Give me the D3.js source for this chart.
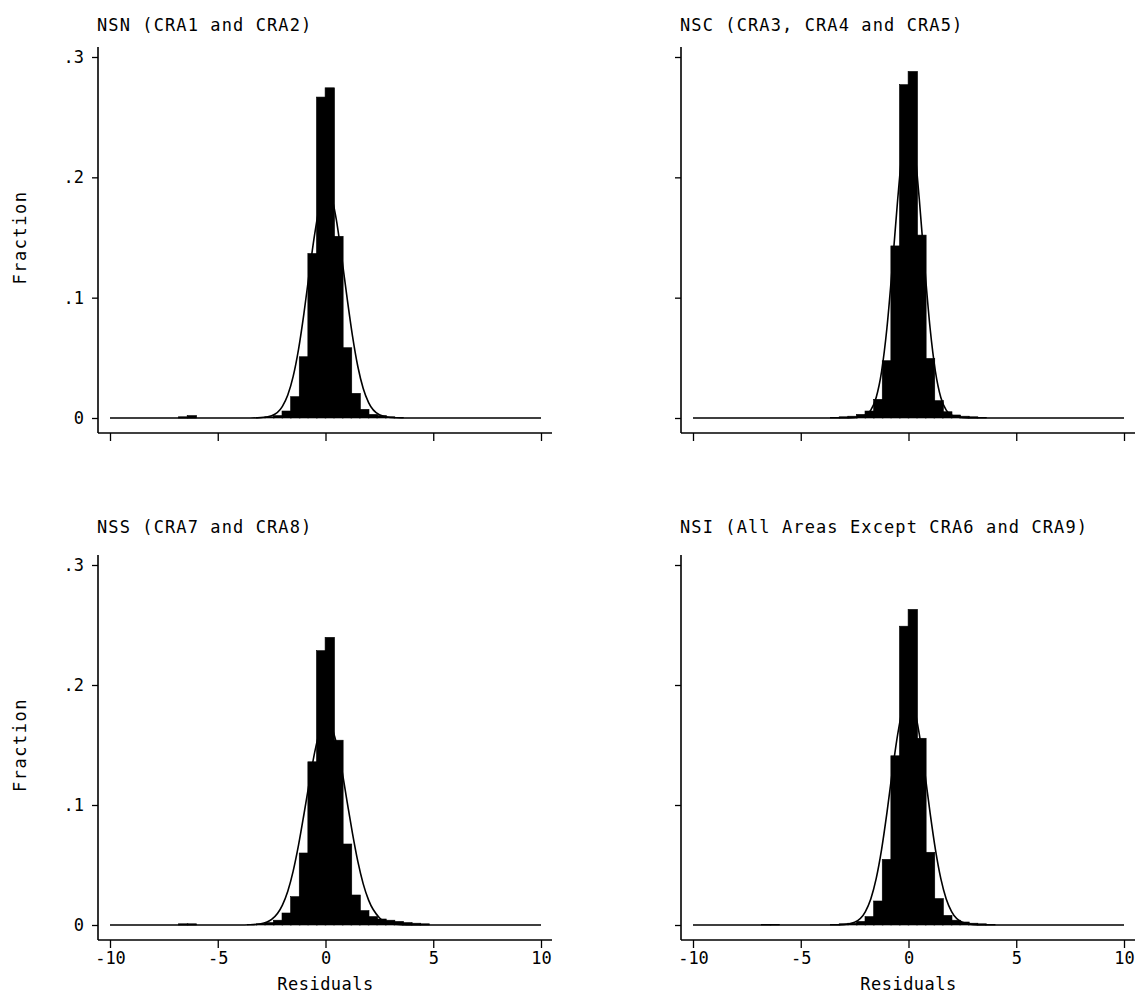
<!DOCTYPE html>
<html><head><meta charset="utf-8">
<script src="https://cdn.jsdelivr.net/npm/d3@7"></script>
<style>
html,body{margin:0;padding:0;background:#fff;}
text{font-family:"DejaVu Sans Mono",monospace;fill:#000;}
</style></head>
<body>
<svg id="chart" width="1137" height="998"></svg>
<script>
// ---- data ----
const titles = ["NSN (CRA1 and CRA2)", "NSC (CRA3, CRA4 and CRA5)", "NSS (CRA7 and CRA8)", "NSI (All Areas Except CRA6 and CRA9)"];
const yTickValues = [0, 0.1, 0.2, 0.3];
const yTickLabels = ["0", ".1", ".2", ".3"];
const xTickValues = [-10, -5, 0, 5, 10];
const xTickLabels = ["-10", "-5", "0", "5", "10"];
const binWidth = 0.4;
const binStarts = [-6.8, -6.4, -3.6, -3.2, -2.8, -2.4, -2.0, -1.6, -1.2, -0.8, -0.4, 0.0, 0.4, 0.8, 1.2, 1.6, 2.0, 2.4, 2.8, 3.2, 3.6, 4.0, 4.4];
const nsnBins = [0.001, 0.002, 0, 0.0005, 0.001, 0.002, 0.0058, 0.0177, 0.0509, 0.1367, 0.2667, 0.2744, 0.151, 0.0584, 0.0205, 0.0072, 0.003, 0.002, 0.001, 0.0005, 0, 0, 0];
const nscBins = [0, 0, 0.0005, 0.001, 0.0015, 0.003, 0.0058, 0.0155, 0.0476, 0.143, 0.277, 0.288, 0.152, 0.0495, 0.0144, 0.0052, 0.0025, 0.0015, 0.001, 0.0005, 0, 0, 0];
const nssBins = [0.001, 0.001, 0.0005, 0.001, 0.002, 0.004, 0.010, 0.0236, 0.060, 0.136, 0.2286, 0.2397, 0.154, 0.0675, 0.025, 0.012, 0.007, 0.005, 0.004, 0.003, 0.002, 0.0015, 0.001];
const nsiBins = [0.0005, 0.0005, 0.0005, 0.001, 0.0015, 0.003, 0.007, 0.020, 0.0547, 0.141, 0.249, 0.263, 0.1556, 0.0606, 0.022, 0.008, 0.004, 0.0025, 0.0015, 0.001, 0.0005, 0, 0];
const curveX = [-10, -4, -3.5, -3, -2.5, -2, -1.75, -1.5, -1.25, -1, -0.75, -0.5, -0.25, 0, 0.25, 0.5, 0.75, 1, 1.25, 1.5, 1.75, 2, 2.5, 3, 3.5, 4, 10];
const nsnCurve = [0, 0, 0, 0.0003, 0.0019, 0.0097, 0.0191, 0.0346, 0.0573, 0.087, 0.121, 0.153, 0.178, 0.19, 0.185, 0.165, 0.134, 0.100, 0.0685, 0.0428, 0.0245, 0.0128, 0.0027, 0.0004, 0, 0, 0];
const nscCurve = [0, 0, 0, 0, 0.0002, 0.0022, 0.0065, 0.0171, 0.0386, 0.075, 0.126, 0.182, 0.228, 0.245, 0.228, 0.182, 0.126, 0.075, 0.0386, 0.0171, 0.0065, 0.0022, 0.0002, 0, 0, 0, 0];
const nssCurve = [0, 0, 0.0002, 0.001, 0.0046, 0.0166, 0.0282, 0.0449, 0.0667, 0.0923, 0.119, 0.144, 0.162, 0.170, 0.166, 0.152, 0.130, 0.103, 0.0766, 0.053, 0.0343, 0.0207, 0.0061, 0.0014, 0.0002, 0, 0];
const nsiCurve = [0, 0, 0, 0.0003, 0.0023, 0.0112, 0.0217, 0.0386, 0.0628, 0.0936, 0.128, 0.159, 0.182, 0.19, 0.182, 0.159, 0.128, 0.0936, 0.0628, 0.0386, 0.0217, 0.0112, 0.0023, 0.0003, 0, 0, 0];

// ---- layout ----
const panels = [
  {title: titles[0], bins: nsnBins, curve: nsnCurve, ax: 98,  x0: 110, x1: 541, y0: 418, y1: 57,  axisY: 433, titleY: 31,  yLabels: true,  xLabels: false},
  {title: titles[1], bins: nscBins, curve: nscCurve, ax: 681, x0: 693, x1: 1124, y0: 418, y1: 57, axisY: 433, titleY: 31,  yLabels: false, xLabels: false},
  {title: titles[2], bins: nssBins, curve: nssCurve, ax: 98,  x0: 110, x1: 541, y0: 925, y1: 565, axisY: 940, titleY: 533, yLabels: true,  xLabels: true},
  {title: titles[3], bins: nsiBins, curve: nsiCurve, ax: 681, x0: 693, x1: 1124, y0: 925, y1: 565, axisY: 940, titleY: 533, yLabels: false, xLabels: true}
];

const svg = d3.select("#chart");
const fs = 17;

panels.forEach(p => {
  const g = svg.append("g");
  const x = d3.scaleLinear().domain([-10, 10]).range([p.x0, p.x1]);
  const y = d3.scaleLinear().domain([0, 0.3]).range([p.y0, p.y1]);

  // title
  g.append("text").attr("x", p.ax - 1).attr("y", p.titleY)
    .attr("font-size", fs).attr("letter-spacing", 1.1).text(p.title);

  // bars
  g.selectAll("rect.bar").data(binStarts.map((s, i) => ({s, v: p.bins[i]})).filter(d => d.v > 0))
    .enter().append("rect")
    .attr("x", d => x(d.s) - 0.4)
    .attr("width", d => x(d.s + binWidth) - x(d.s) + 0.8)
    .attr("y", d => y(d.v))
    .attr("height", d => y(0) - y(d.v))
    .attr("fill", "#000")
    .attr("stroke", "#000").attr("stroke-width", 0.6);

  // normal curve
  const line = d3.line().x(d => x(d[0])).y(d => y(d[1])).curve(d3.curveMonotoneX);
  g.append("path").datum(curveX.map((cx, i) => [cx, p.curve[i]]))
    .attr("d", line).attr("fill", "none").attr("stroke", "#000").attr("stroke-width", 1.6);

  // y axis
  const yAxis = d3.axisLeft(y).tickValues(yTickValues).tickSize(6).tickPadding(8)
    .tickFormat((d, i) => p.yLabels ? yTickLabels[i] : "");
  const ya = g.append("g").attr("transform", `translate(${p.ax},0)`).call(yAxis);
  ya.select(".domain").remove();
  ya.selectAll("text").attr("font-size", fs).attr("font-family", "DejaVu Sans Mono");
  ya.selectAll("line").attr("stroke-width", 1.3);
  g.append("line").attr("x1", p.ax).attr("x2", p.ax).attr("y1", p.y1 - 10).attr("y2", p.axisY)
    .attr("stroke", "#000").attr("stroke-width", 1.6);

  // x axis
  const xAxis = d3.axisBottom(x).tickValues(xTickValues).tickSize(8).tickPadding(4)
    .tickFormat((d, i) => p.xLabels ? xTickLabels[i] : "");
  const xa = g.append("g").attr("transform", `translate(0,${p.axisY})`).call(xAxis);
  xa.select(".domain").remove();
  xa.selectAll("text").attr("font-size", fs).attr("font-family", "DejaVu Sans Mono");
  xa.selectAll("line").attr("stroke-width", 1.3);
  g.append("line").attr("x1", p.ax).attr("x2", p.x1 + 11).attr("y1", p.axisY).attr("y2", p.axisY)
    .attr("stroke", "#000").attr("stroke-width", 1.6);

  if (p.yLabels) {
    g.append("text").attr("transform", `translate(26,${(p.y0 + p.y1) / 2}) rotate(-90)`)
      .attr("text-anchor", "middle").attr("font-size", fs).attr("letter-spacing", 1.5).text("Fraction");
  }
  if (p.xLabels) {
    g.append("text").attr("x", x(0)).attr("y", p.axisY + 50)
      .attr("text-anchor", "middle").attr("font-size", fs).attr("letter-spacing", 0.5).text("Residuals");
  }
});
</script>
</body></html>
